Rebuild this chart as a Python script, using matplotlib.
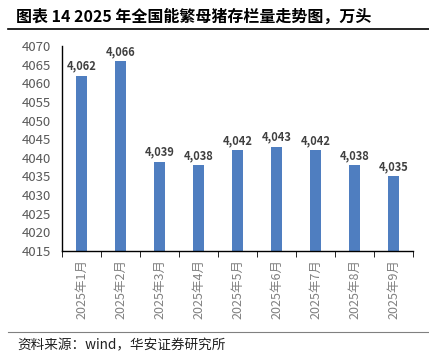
import numpy as np
import matplotlib.pyplot as plt
from matplotlib.lines import Line2D

plt.rcParams['font.family'] = ['Noto Sans CJK SC', 'DejaVu Sans']

months = ['2025年1月', '2025年2月', '2025年3月', '2025年4月', '2025年5月',
          '2025年6月', '2025年7月', '2025年8月', '2025年9月']
sows = [4062, 4066, 4039, 4038, 4042, 4043, 4042, 4038, 4035]
y_ticks = list(range(4015, 4071, 5))

fig = plt.figure(figsize=(4.29, 3.58), dpi=100)
ax = fig.add_axes([62 / 429, 1 - 251 / 358, (413 - 62) / 429, (251 - 46) / 358])

x = np.arange(len(months))
bars = ax.bar(x, sows, width=0.3, color='#4F7EC0', zorder=2)
for xi, v in zip(x, sows):
    ax.text(xi, v + 0.8, f'{v:,}', ha='center', va='bottom', fontsize=8,
            fontweight='bold', color='#404040')

ax.set_ylim(4015, 4070)
ax.set_xlim(-0.5, len(months) - 0.5)
ax.set_yticks(y_ticks)
ax.tick_params(axis='y', length=0, labelsize=9.5, labelcolor='#595959', pad=8)
ax.set_xticks(x)
ax.set_xticklabels(months, rotation=90, fontsize=9, color='#808080')
ax.tick_params(axis='x', length=0, pad=6)
ax.set_xticks(np.arange(len(months) + 1) - 0.5, minor=True)
ax.tick_params(axis='x', which='minor', length=4, direction='out', color='black')

for s in ['top', 'right']:
    ax.spines[s].set_visible(False)
for s in ['left', 'bottom']:
    ax.spines[s].set_color('black')
    ax.spines[s].set_linewidth(1.0)

fig.text(16 / 429, 1 - 17 / 358, '图表 14 2025 年全国能繁母猪存栏量走势图，万头',
         fontsize=11.5, fontweight='bold', va='center', ha='left')
fig.add_artist(Line2D([8 / 429, 1.0], [1 - 29 / 358] * 2, color='black', linewidth=1.2))
fig.add_artist(Line2D([8 / 429, 1.0], [1 - 332 / 358] * 2, color='#808080', linewidth=0.8))
fig.text(17 / 429, 1 - 345 / 358, '资料来源：wind，华安证券研究所', fontsize=9.8,
         va='center', ha='left', color='#202020')

fig.savefig('out.png', dpi=100)
